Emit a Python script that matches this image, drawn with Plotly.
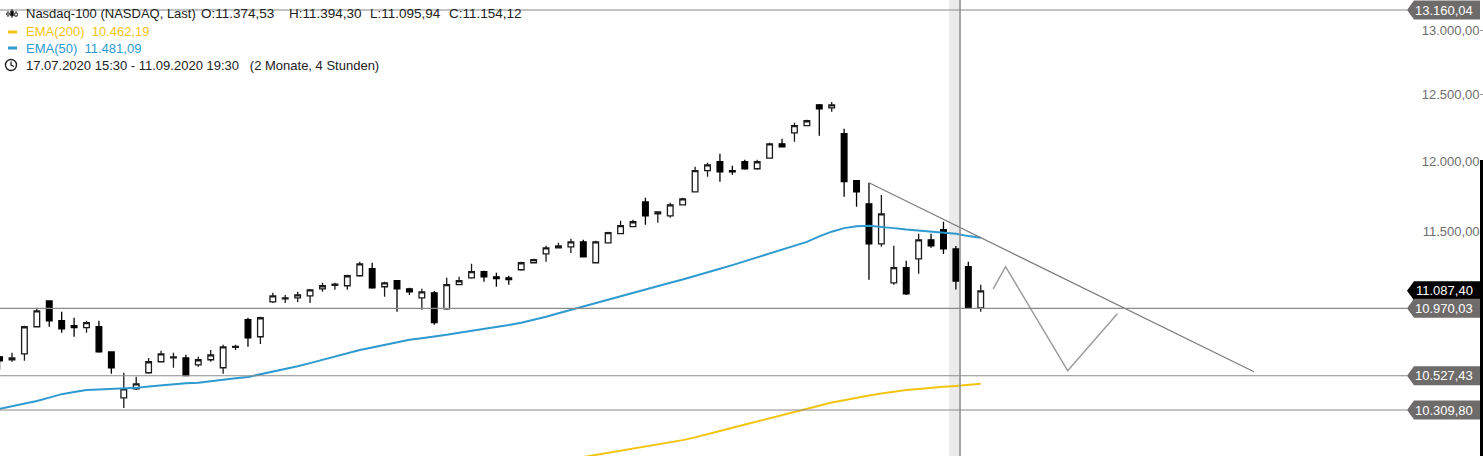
import numpy as np
import plotly.graph_objects as go

# ---------------- data (4h candles, 17.07.2020 15:30 - 11.09.2020 19:30) ----------------
candle_idx = list(range(80))
open_ = [10650, 10631, 10669, 10847, 11019, 10887, 10854, 10841, 10847, 10682,
         10386, 10444, 10547, 10618, 10643, 10643, 10598, 10631, 10579, 10712,
         10894, 10781, 11013, 11033, 11040, 11053, 11101, 11125, 11122, 11190,
         11238, 11115, 11156, 11101, 11040, 11074, 10966, 11129, 11176, 11218,
         11183, 11176, 11231, 11279, 11340, 11382, 11389, 11424, 11279, 11417,
         11481, 11530, 11706, 11621, 11607, 11685, 11778, 11931, 11996, 11931,
         11996, 11945, 12023, 12128, 12210, 12263, 12420, 12397, 12203, 11858,
         11692, 11410, 11142, 11245, 11306, 11438, 11509, 11374.53, 11252, 10973]
high = [10656, 10676, 10854, 10973, 11022, 10947, 10907, 10887, 10887, 10685,
        10547, 10521, 10643, 10689, 10676, 10663, 10650, 10695, 10728, 10728,
        10907, 10913, 11074, 11060, 11081, 11100, 11142, 11142, 11197, 11286,
        11279, 11149, 11160, 11108, 11101, 11087, 11176, 11183, 11272, 11224,
        11211, 11190, 11286, 11306, 11396, 11417, 11445, 11438, 11431, 11495,
        11572, 11579, 11735, 11638, 11699, 11735, 11960, 11989, 12054, 11967,
        12010, 12010, 12136, 12165, 12285, 12307, 12427, 12442, 12240, 11862,
        11843, 11756, 11396, 11293, 11481, 11481, 11565, 11394.30, 11286, 11129]
low = [10566, 10618, 10624, 10845, 10847, 10808, 10781, 10808, 10676, 10540,
       10323, 10437, 10540, 10615, 10579, 10525, 10586, 10618, 10540, 10695,
       10715, 10734, 11006, 11006, 11013, 11006, 11081, 11094, 11094, 11183,
       11101, 11047, 10947, 11060, 10960, 10860, 10960, 11125, 11170, 11149,
       11115, 11129, 11225, 11275, 11286, 11378, 11347, 11316, 11275, 11413,
       11478, 11527, 11544, 11558, 11593, 11682, 11774, 11887, 11851, 11902,
       11938, 11938, 12020, 12102, 12143, 12258, 12188, 12367, 11742, 11671,
       11163, 11389, 11129, 11060, 11204, 11382, 11340, 11095.94, 10966, 10947]
close = [10624, 10643, 10847, 10953, 10887, 10834, 10841, 10874, 10682, 10579,
         10444, 10476, 10618, 10669, 10650, 10528, 10631, 10663, 10715, 10718,
         10774, 10907, 11053, 11040, 11060, 11094, 11122, 11132, 11190, 11272,
         11108, 11142, 11101, 11081, 11081, 10874, 11129, 11156, 11218, 11183,
         11170, 11163, 11279, 11300, 11382, 11396, 11424, 11320, 11424, 11488,
         11537, 11565, 11607, 11635, 11685, 11727, 11931, 11974, 11923, 11923,
         11945, 11996, 12128, 12105, 12263, 12300, 12390, 12420, 11851, 11778,
         11410, 11621, 11245, 11067, 11438, 11396, 11375, 11154.12, 10973, 11087.40]

ema50 = [10317, 10333, 10349, 10367, 10388, 10410, 10423, 10437, 10440, 10442,
         10445, 10450, 10458, 10466, 10474, 10479, 10482, 10493, 10502, 10511,
         10520, 10536, 10553, 10571, 10589, 10609, 10631, 10652, 10673, 10694,
         10711, 10727, 10744, 10761, 10772, 10782, 10794, 10807, 10819, 10831,
         10845, 10859, 10874, 10892, 10913, 10937, 10960, 10982, 11005, 11027,
         11050, 11073, 11096, 11118, 11142, 11164, 11187, 11211, 11238, 11263,
         11289, 11315, 11341, 11367, 11395, 11424, 11462, 11495, 11520, 11533,
         11536, 11530, 11520, 11510, 11504, 11498, 11492, 11481.09, 11464, 11452]
ema200_idx = list(range(47, 80))
ema200 = [10018, 10031, 10043, 10056, 10068, 10082, 10095, 10108, 10122, 10139,
          10157, 10178, 10199, 10219, 10240, 10260, 10281, 10301, 10321, 10339,
          10357, 10372, 10388, 10401, 10414, 10427, 10437, 10443, 10451, 10457,
          10462.19, 10469, 10476]

level_lines = [13160.04, 10970.03, 10527.43, 10309.80]
last_price = 11087.40
ytick_vals = [13000, 12500, 12000, 11500]
trend_x = [70, 101]
trend_y = [11843, 10553]
zig_x = [80, 81, 86, 90]
zig_y = [11101, 11252, 10560, 10933]
cross_idx = 77

# ---------------- helpers ----------------
W, H = 1483, 456
def px(x):
    return x / W
def py(y):
    return 1 - y / H
def de(v):
    s = f"{v:,.2f}"
    return s.replace(",", "X").replace(".", ",").replace("X", ".")

FONT = "Liberation Sans, Arial, sans-serif"

fig = go.Figure()
fig.add_trace(go.Candlestick(
    x=candle_idx, open=open_, high=high, low=low, close=close,
    increasing=dict(fillcolor="white", line=dict(color="#1a1a1a", width=1.3)),
    decreasing=dict(fillcolor="black", line=dict(color="black", width=1.3)),
    whiskerwidth=0, showlegend=False, hoverinfo="skip"))
fig.add_trace(go.Scatter(x=candle_idx, y=ema50, mode="lines",
                         line=dict(color="#2e9ad0", width=2), showlegend=False, hoverinfo="skip"))
fig.add_trace(go.Scatter(x=ema200_idx, y=ema200, mode="lines",
                         line=dict(color="#f2c40f", width=2), showlegend=False, hoverinfo="skip"))
fig.add_trace(go.Scatter(x=trend_x, y=trend_y, mode="lines",
                         line=dict(color="#7c7c7c", width=1.2), showlegend=False, hoverinfo="skip"))
fig.add_trace(go.Scatter(x=zig_x, y=zig_y, mode="lines",
                         line=dict(color="#9c9c9c", width=1.5), showlegend=False, hoverinfo="skip"))

shapes = []
# crosshair band + line
shapes.append(dict(type="rect", xref="x", yref="paper", x0=cross_idx - 0.55, x1=cross_idx + 0.4,
                   y0=0, y1=1, fillcolor="#ebebeb", line=dict(width=0), layer="below"))
shapes.append(dict(type="line", xref="x", yref="paper", x0=cross_idx + 0.33, x1=cross_idx + 0.33,
                   y0=0, y1=1, line=dict(color="#8c8c8c", width=1.5), layer="above"))
# horizontal levels
for lv in level_lines:
    shapes.append(dict(type="line", xref="paper", yref="y", x0=0, x1=px(1407), y0=lv, y1=lv,
                       line=dict(color="#8a8a8a", width=1.2), layer="above"))
# label boxes (last price first, then levels)
annotations = []
label_path = "M-76,0 L-69,9.5 L-3,9.5 L-3,-9.5 L-69,-9.5 Z"
for val, col in [(last_price, "#000000")] + [(lv, "#6e6b6b") for lv in level_lines]:
    shapes.append(dict(type="path", xref="paper", yref="y", xsizemode="pixel", ysizemode="pixel",
                       xanchor=1, yanchor=val, path=label_path, fillcolor=col,
                       line=dict(width=0), layer="above"))
    annotations.append(dict(x=1, xref="paper", xanchor="right", xshift=-8,
                            y=float(np.log10(val)), yref="y", yanchor="middle",
                            text=de(val), showarrow=False,
                            font=dict(family=FONT, size=13, color="white")))
# right black bar
shapes.append(dict(type="rect", xref="paper", yref="paper", x0=px(1480), x1=1, y0=0, y1=py(160),
                   fillcolor="black", line=dict(width=0), layer="above"))

# legend icons
for cx, t, b, bt, bb, fill in [(8, 11, 17, 13, 15, "white"), (12, 9, 18, 11, 16, "black"), (16, 11, 17, 13, 16, "white")]:
    shapes.append(dict(type="line", xref="paper", yref="paper", x0=px(cx), x1=px(cx), y0=py(t), y1=py(b),
                       line=dict(color="#333", width=1)))
    shapes.append(dict(type="rect", xref="paper", yref="paper", x0=px(cx - 1.3), x1=px(cx + 1.3),
                       y0=py(bt), y1=py(bb), fillcolor=fill, line=dict(color="#333", width=1)))
shapes.append(dict(type="line", xref="paper", yref="paper", x0=px(8), x1=px(17), y0=py(32), y1=py(32),
                   line=dict(color="#f2c40f", width=3)))
shapes.append(dict(type="line", xref="paper", yref="paper", x0=px(8), x1=px(17), y0=py(48), y1=py(48),
                   line=dict(color="#2e9ad0", width=3)))
shapes.append(dict(type="circle", xref="paper", yref="paper", x0=px(5.5), x1=px(16.5), y0=py(59.5), y1=py(70.5),
                   line=dict(color="#222", width=1.4)))
shapes.append(dict(type="path", xref="paper", yref="paper",
                   path=f"M{px(11)},{py(61.5)} L{px(11)},{py(65)} L{px(14)},{py(66.5)}",
                   line=dict(color="#222", width=1.3)))

legend_items = [
    ("Nasdaq-100 (NASDAQ, Last)", 24, 13, "#222222", 13),
    ("O:" + de(open_[cross_idx]), 199, 13, "#222222", 13.5),
    ("H:" + de(high[cross_idx]), 287, 13, "#222222", 13.5),
    ("L:" + de(low[cross_idx]), 368, 13, "#222222", 13.5),
    ("C:" + de(close[cross_idx]), 447, 13, "#222222", 13.5),
    ("EMA(200)  " + de(ema200[ema200_idx.index(cross_idx)]), 24, 31, "#f2c40f", 13),
    ("EMA(50)  " + de(ema50[cross_idx]), 24, 48, "#2e9ad0", 13),
    ("17.07.2020 15:30 - 11.09.2020 19:30   (2 Monate, 4 Stunden)", 24, 65, "#222222", 13),
]
for txt, x, y, col, fs in legend_items:
    annotations.append(dict(x=px(x), y=py(y), xref="paper", yref="paper", xanchor="left", yanchor="middle",
                            text=txt, showarrow=False, font=dict(family=FONT, size=fs, color=col)))

fig.update_layout(
    width=W, height=H, margin=dict(l=0, r=0, t=0, b=0),
    paper_bgcolor="white", plot_bgcolor="white",
    showlegend=False, boxgap=0.35,
    xaxis=dict(range=[0.034, 119.44], visible=False, rangeslider=dict(visible=False), fixedrange=True),
    yaxis=dict(type="log", range=[4.00106, 4.12191], side="right",
               tickvals=ytick_vals, ticktext=[de(v) for v in ytick_vals],
               ticklabelposition="inside", ticks="inside", ticklen=3, tickcolor="#999999",
               tickfont=dict(family=FONT, size=13, color="#6e6e6e"),
               showgrid=False, zeroline=False, showline=False, fixedrange=True),
    shapes=shapes, annotations=annotations,
)

fig.write_html("out.html", config={"displayModeBar": False},
               post_script="document.body.style.margin='0';document.body.style.padding='0';"
                           "document.body.style.overflow='hidden';")
